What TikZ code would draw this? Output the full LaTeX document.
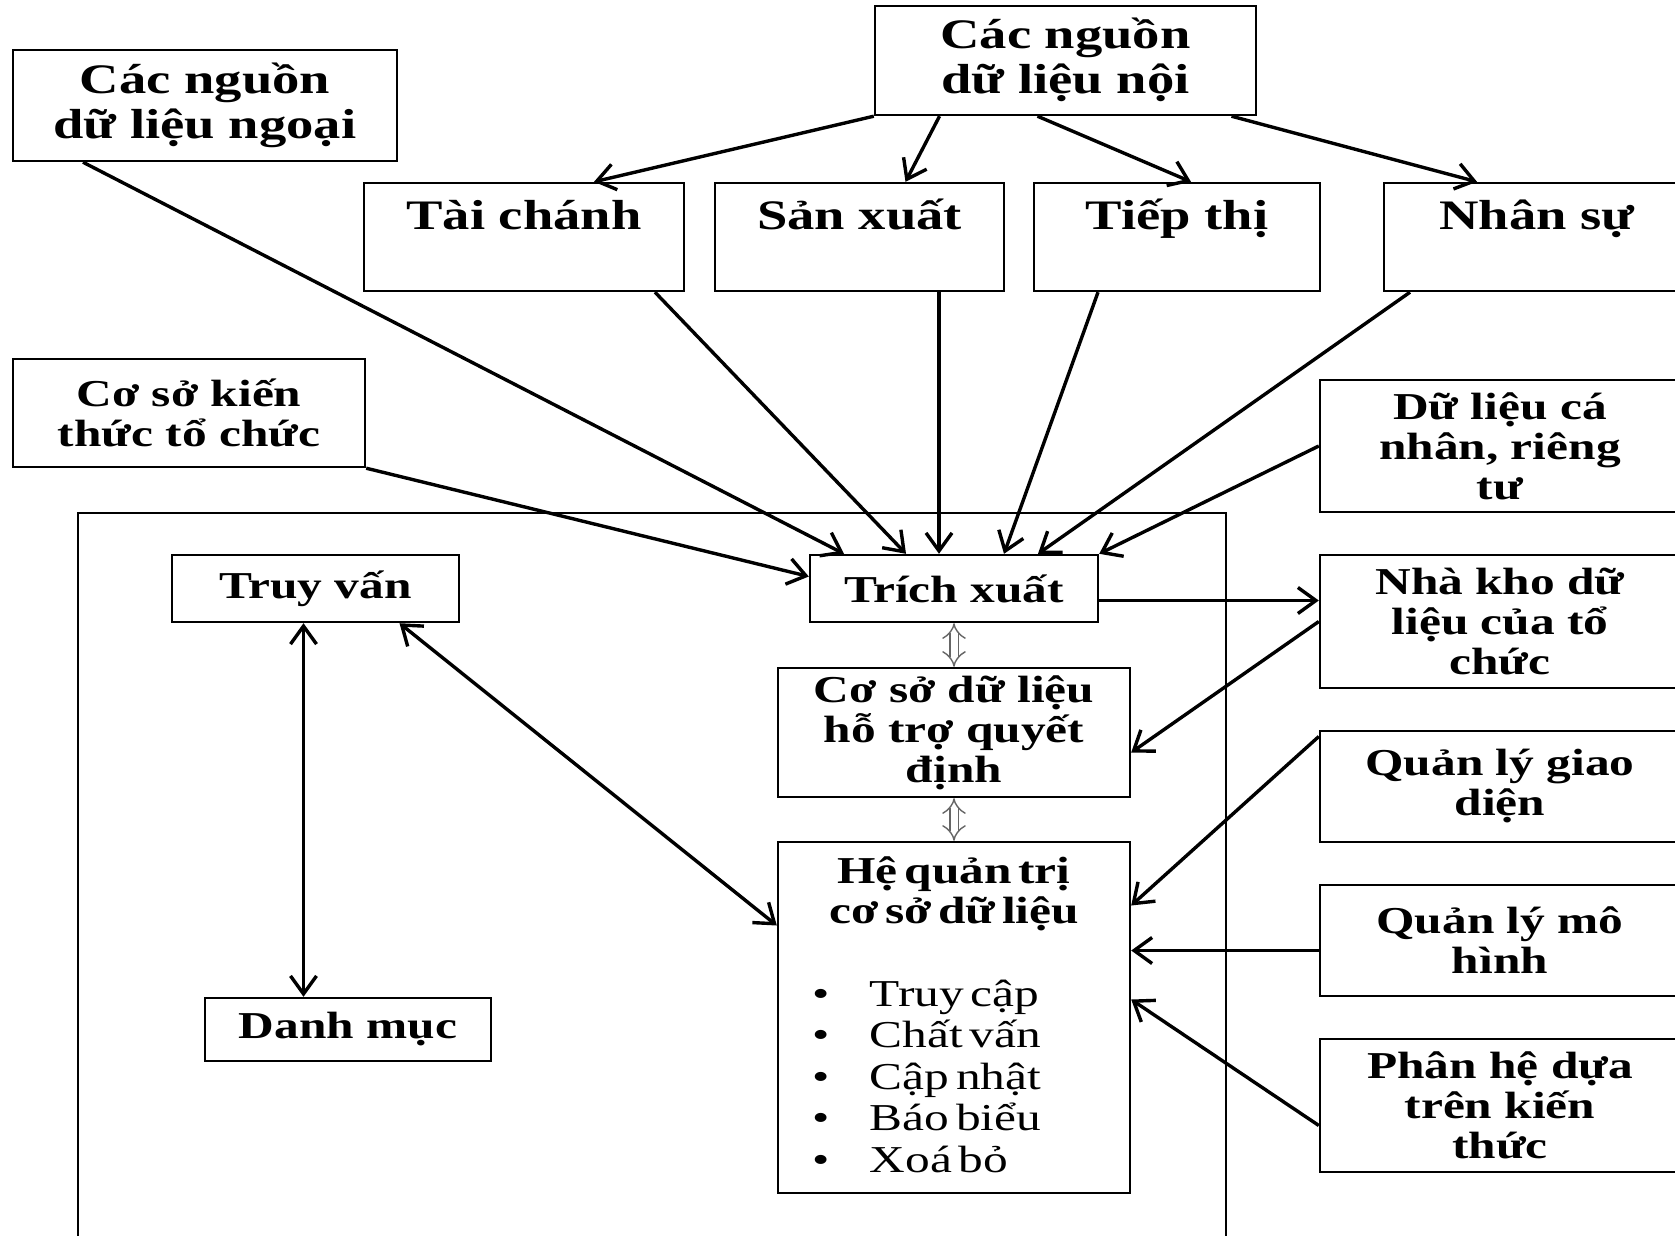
\documentclass[tikz,border=0pt]{standalone}
\usepackage{fontspec}
\setmainfont{Liberation Serif}[FakeStretch=1.3]
\usetikzlibrary{arrows.meta}
\newcommand\bigtxt{\fontsize{21}{22.5}\selectfont\bfseries}
\newcommand\smalltxt{\fontsize{19}{20}\selectfont\bfseries}
\newcommand\itemtxt[1]{\hspace*{17pt}\makebox[29pt][l]{\textbullet}#1\par}
\tikzset{
  box/.style={draw,line width=1.2pt,align=center,inner sep=2pt},
  bigbox/.style={box,font=\bigtxt},
  smallbox/.style={box,font=\smalltxt},
  toprow/.style={bigbox,text height=19pt,text depth=27pt,inner ysep=4pt},
  arr/.style={line width=1.7pt,-{Straight Barb[length=9pt,width=13pt]}},
  twoway/.style={line width=1.7pt,{Straight Barb[length=9pt,width=13pt]}-{Straight Barb[length=9pt,width=13pt]}},
  dbl/.style={double,double distance=3.5pt,line width=.7pt,draw=black!60,{Implies}-{Implies}}
}
\begin{document}
\begin{tikzpicture}[x=.5pt,y=-.5pt]
  \useasboundingbox (0,0) rectangle (1675,1236);
  % outer frame
  \draw[line width=1.2pt] (78,1250) |- (1226,513) -- (1226,1250);
  % sources
  \node[bigbox,minimum width=192pt,minimum height=55.5pt] (ngoai) at (205,105.5) {Các nguồn\\dữ liệu ngoại};
  \node[bigbox,minimum width=190.5pt,minimum height=54.5pt,text depth=5pt] (noi) at (1065.5,60.5) {Các nguồn\\dữ liệu nội};
  \node[toprow,minimum width=160pt] (tai) at (524,237) {Tài chánh};
  \node[toprow,minimum width=144.5pt] (san) at (859.5,237) {Sản xuất};
  \node[toprow,minimum width=143pt] (tiep) at (1177,237) {Tiếp thị};
  \node[toprow,minimum width=153pt] (nhansu) at (1537,237) {Nhân sự};
  \node[smallbox,minimum width=176pt,minimum height=54pt] (kienthuc) at (189,413) {Cơ sở kiến\\thức tổ chức};
  \node[smallbox,minimum width=180pt,minimum height=66pt] (canhan) at (1500,446) {Dữ liệu cá\\nhân, riêng\\tư};
  % inside the frame
  \node[smallbox,minimum width=143.5pt,minimum height=33.5pt] (truyvan) at (315.5,588.5) {Truy vấn};
  \node[smallbox,minimum width=144pt,minimum height=33.5pt] (trich) at (954,588.5) {Trích xuất};
  \node[smallbox,minimum width=176pt,minimum height=64.5pt] (csdl) at (954,732.5) {Cơ sở dữ liệu\\hỗ trợ quyết\\định};
  \node[draw,line width=1.2pt,text width=176pt,inner sep=0pt,text height=20.5pt,text depth=155pt] (hqt) at (954,1017.5)
    {{\centering\smalltxt Hệ quản trị\\cơ sở dữ liệu\par}
     \vspace{20.7pt}
     {\fontsize{19}{20.8}\selectfont
     \itemtxt{Truy cập}\itemtxt{Chất vấn}\itemtxt{Cập nhật}\itemtxt{Báo biểu}\itemtxt{Xoá bỏ}}};
  \node[smallbox,minimum width=143pt,minimum height=31.5pt] (danhmuc) at (348,1029.5) {Danh mục};
  % right column
  \node[smallbox,minimum width=180pt,minimum height=66.5pt] (nhakho) at (1500,621.5) {Nhà kho dữ\\liệu của tổ\\chức};
  \node[smallbox,minimum width=180pt,minimum height=55.5pt] (giaodien) at (1500,786.5) {Quản lý giao\\diện};
  \node[smallbox,minimum width=180pt,minimum height=55.5pt] (mohinh) at (1500,940.5) {Quản lý mô\\hình};
  \node[smallbox,minimum width=180pt,minimum height=66.5pt] (phanhe) at (1500,1105.5) {Phân hệ dựa\\trên kiến\\thức};
  % connectors
  \draw[arr] (noi.south west) -- ([xshift=35pt]tai.north);
  \draw[arr] ([xshift=-63pt]noi.south) -- ([xshift=23pt]san.north);
  \draw[arr] ([xshift=-14pt]noi.south) -- ([xshift=7pt]tiep.north);
  \draw[arr] ([xshift=83pt]noi.south) -- ([xshift=-30pt]nhansu.north);
  \draw[arr] ([xshift=-61pt]ngoai.south) -- ([xshift=-55pt]trich.north);
  \draw[arr] ([xshift=65.5pt]tai.south) -- ([xshift=-24pt]trich.north);
  \draw[arr] ([xshift=-7.5pt]trich.north |- san.south) -- ([xshift=-7.5pt]trich.north);
  \draw[arr] ([xshift=-39.5pt]tiep.south) -- ([xshift=25pt]trich.north);
  \draw[arr] ([xshift=-63.5pt]nhansu.south) -- ([xshift=42pt]trich.north);
  \draw[arr] (canhan.west) -- (trich.north east);
  \draw[arr] (kienthuc.south east) -- ([yshift=6pt]trich.west);
  \draw[arr] ([yshift=-6pt]trich.east) -- ([yshift=-6pt]trich.east -| nhakho.west);
  \draw[arr] (nhakho.west) -- ([yshift=-10pt]csdl.east);
  \draw[arr] ([yshift=25pt]giaodien.west) -- ([yshift=56pt]hqt.east);
  \draw[arr] ([yshift=-5pt]mohinh.west) -- ([yshift=-5pt]mohinh.west -| hqt.east);
  \draw[arr] ([yshift=-10pt]phanhe.west) -- ([yshift=9pt]hqt.east);
  \draw[twoway] ([xshift=-6pt]truyvan.south) -- ([xshift=-6pt]truyvan.south |- danhmuc.north);
  \draw[twoway] ([xshift=42pt]truyvan.south) -- ([yshift=46pt]hqt.west);
  \draw[dbl] (trich.south) -- (csdl.north);
  \draw[dbl] (csdl.south) -- (hqt.north);
\end{tikzpicture}
\end{document}
